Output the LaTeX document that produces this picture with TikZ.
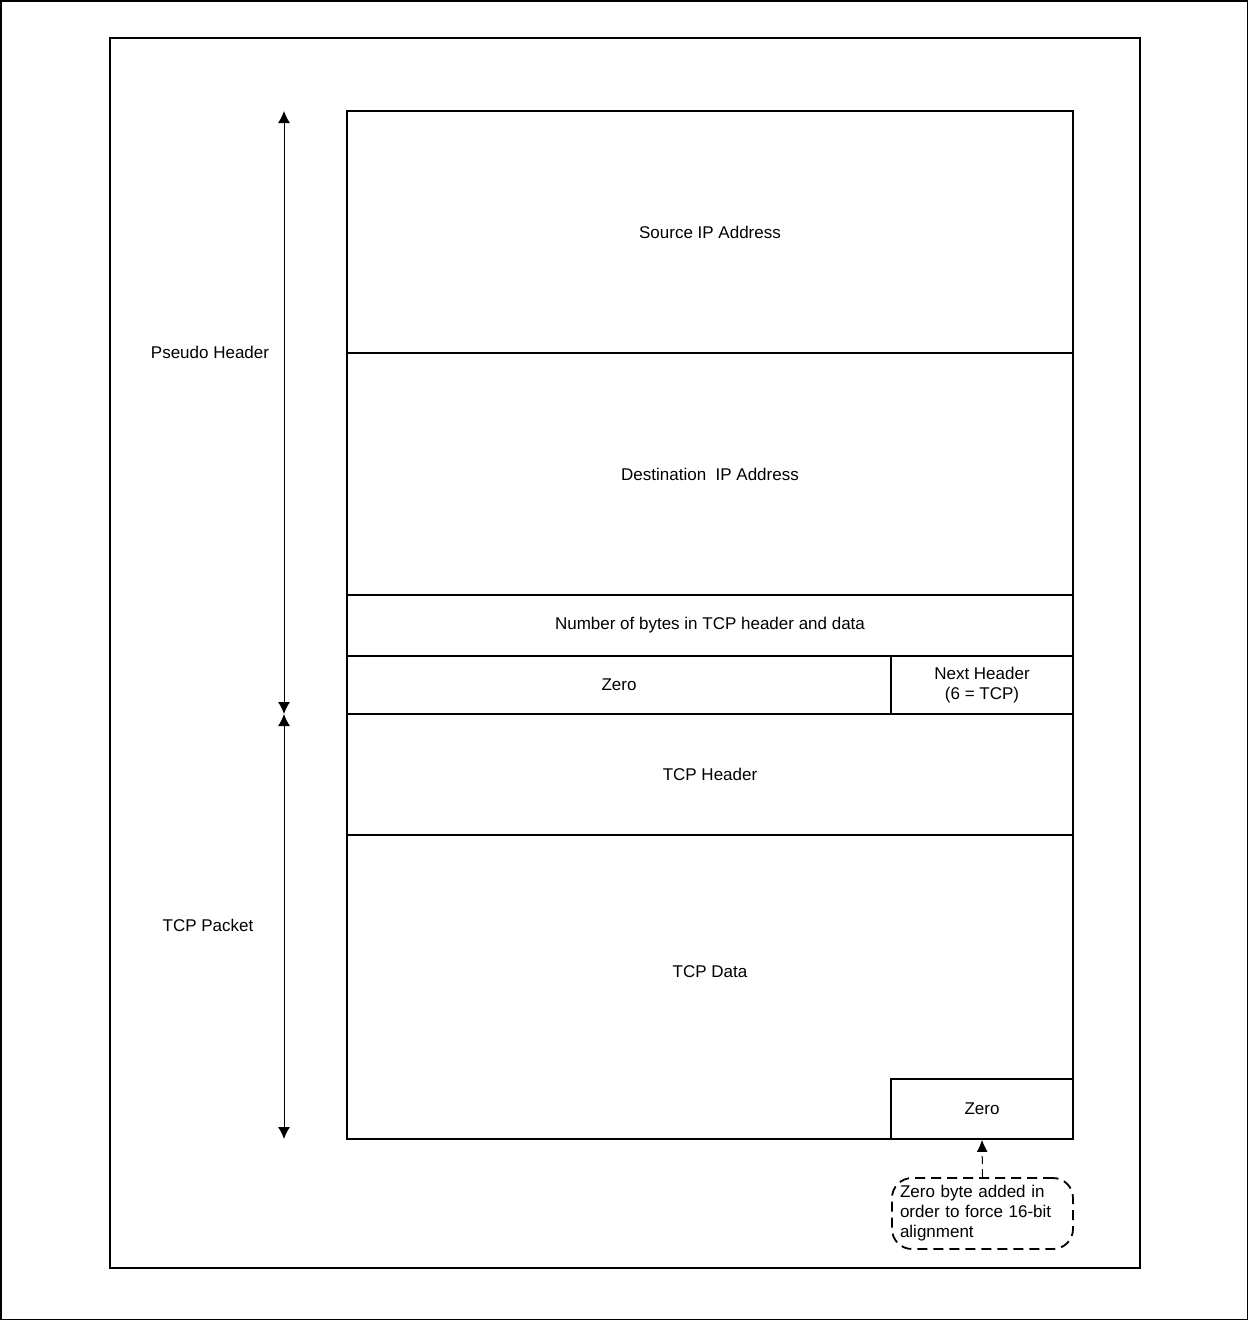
\documentclass[tikz,border=0pt]{standalone}
\usepackage{fontspec}
\setmainfont{Liberation Sans}
\usetikzlibrary{arrows.meta}
\begin{document}
\begin{tikzpicture}[x=1pt,y=-1pt,font=\fontsize{17}{20}\selectfont,
  field/.style={draw,shape=rectangle,line width=1.6pt,inner sep=0pt},
  span/.style={{Latex[length=12pt,width=12pt]}-{Latex[length=12pt,width=12pt]},line width=1pt},
  note/.style={draw,dashed,dash pattern=on 10pt off 6pt,line width=1.8pt,rounded corners=20pt,
    align=left,text width=165pt,inner xsep=8pt,minimum height=71pt}]
\useasboundingbox (0,0) rectangle (1248,1320);
\draw[line width=1.5pt] (0.75,0.75) rectangle (1247.25,1319.25);
\draw[line width=2pt] (110,38) rectangle (1140,1268);
\path (710,232) node(src_0) [field,minimum width=726pt,minimum height=242pt] {Source IP Address};
\path (710,474) node(dst_0) [field,minimum width=726pt,minimum height=242pt] {Destination\ \ IP Address};
\path (710,625.5) node(len_0) [field,minimum width=726pt,minimum height=61pt] {Number of bytes in TCP header and data};
\path (619,685) node(zero_0) [field,minimum width=544pt,minimum height=58pt] {Zero};
\path (982,685) node(next_0) [field,minimum width=182pt,minimum height=58pt,align=center] {Next Header\\(6 = TCP)};
\path (710,774.5) node(tcph_1) [field,minimum width=726pt,minimum height=121pt] {TCP Header};
\path (710,987) node(data_1) [field,minimum width=726pt,minimum height=304pt] {};
\path (710,972) node(data_t) {TCP Data};
\path (982,1109) node(pad_1) [field,minimum width=182pt,minimum height=60pt] {Zero};
\coordinate (ph_top) at (284,111);
\coordinate (ph_bot) at (284,714);
\coordinate (pk_bot) at (284,1139);
\draw[span] (ph_top) -- (ph_bot);
\draw[span] (ph_bot) -- (pk_bot);
\path (210,352) node(ph_lbl) {Pseudo Header};
\path (208,925) node(pk_lbl) {TCP Packet};
\path (982.5,1213.5) node(pad_note) [note] {Zero byte added in\\order to force 16-bit\\alignment};
\draw[-{Latex[length=12pt,width=11pt]},dashed,dash pattern=on 8pt off 5pt,line width=1pt] (pad_note.north) -- (pad_1.south);
\end{tikzpicture}
\end{document}
